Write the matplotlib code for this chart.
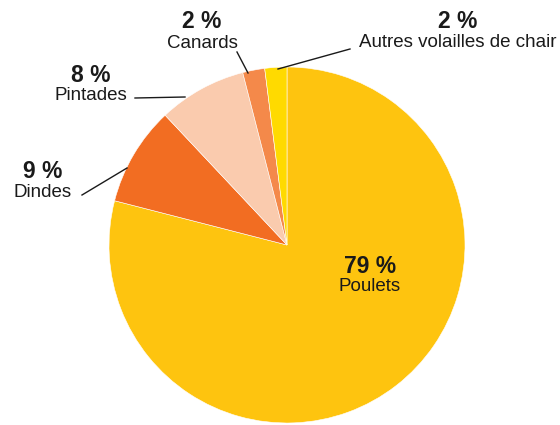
import matplotlib.pyplot as plt

# Répartition des volailles de chair
labels = ["Poulets", "Dindes", "Pintades", "Canards", "Autres volailles de chair"]
shares = [79, 9, 8, 2, 2]
colors = ["#FEC40F", "#F26D22", "#FACBAE", "#F4894A", "#FFDA00"]

plt.rcParams["font.family"] = ["Liberation Sans", "DejaVu Sans"]

W, H = 560, 425
fig = plt.figure(figsize=(W / 100, H / 100), dpi=100)
ax = fig.add_axes([0, 0, 1, 1])

ax.pie(
    shares,
    colors=colors,
    startangle=90,
    counterclock=False,
    center=(287, 180),
    radius=178,
    wedgeprops={"edgecolor": "white", "linewidth": 0.4},
)
ax.set_xlim(0, W)
ax.set_ylim(0, H)
ax.set_aspect("equal")
ax.axis("off")

# text anchor (x, baseline of percentage, baseline of name) and leader lines, in pixels
text_pos = {
    "Poulets": (370, 152, 134),
    "Dindes": (43, 247, 228),
    "Pintades": (91, 343, 325),
    "Canards": (202, 397, 377),
    "Autres volailles de chair": (458, 397, 378),
}
leaders = {
    "Dindes": ((82, 230), (127, 257)),
    "Pintades": ((135, 327), (185, 328)),
    "Canards": ((237, 373), (248, 352)),
    "Autres volailles de chair": ((350, 376), (278, 356)),
}

for name, value in zip(labels, shares):
    x, yp, yn = text_pos[name]
    ax.text(x, yp, f"{value} %", ha="center", va="baseline",
            fontsize=16.5, fontweight="bold", color="#1a1a1a")
    ax.text(x, yn, name, ha="center", va="baseline",
            fontsize=13.5, color="#1a1a1a")
    if name in leaders:
        (x0, y0), (x1, y1) = leaders[name]
        ax.plot([x0, x1], [y0, y1], color="#1a1a1a", lw=1)

fig.savefig("out.png", dpi=100)
